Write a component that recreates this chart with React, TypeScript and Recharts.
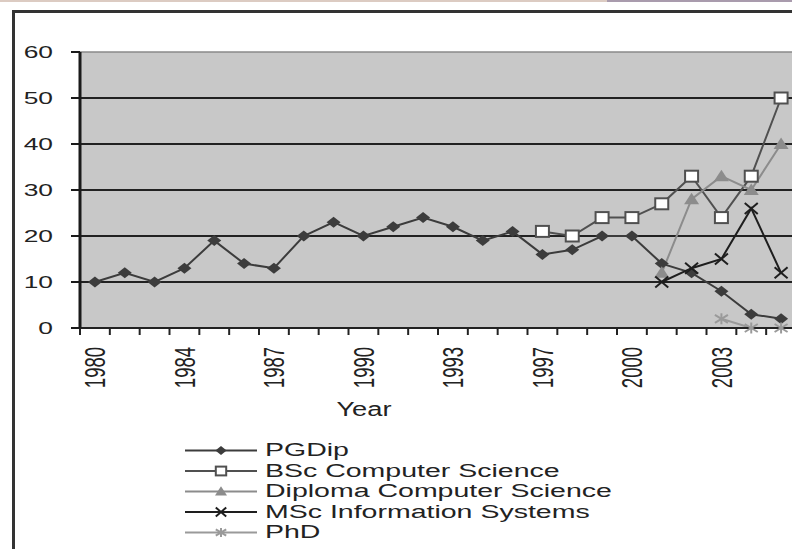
import { CartesianGrid, Legend, Line, LineChart, XAxis, YAxis } from "recharts"

const years = [
  "1980", "1981", "1982", "1984", "1985", "1986", "1987", "1988", "1989", "1990", "1991", "1992",
  "1993", "1995", "1996", "1997", "1998", "1999", "2000", "2001", "2002", "2003", "2004", "2005",
]
const pgdip = [10, 12, 10, 13, 19, 14, 13, 20, 23, 20, 22, 24, 22, 19, 21, 16, 17, 20, 20, 14, 12, 8, 3, 2]
const bsc = [null, null, null, null, null, null, null, null, null, null, null, null, null, null, null, 21, 20, 24, 24, 27, 33, 24, 33, 50]
const diploma = [null, null, null, null, null, null, null, null, null, null, null, null, null, null, null, null, null, null, null, 12, 28, 33, 30, 40]
const msc = [null, null, null, null, null, null, null, null, null, null, null, null, null, null, null, null, null, null, null, 10, 13, 15, 26, 12]
const phd = [null, null, null, null, null, null, null, null, null, null, null, null, null, null, null, null, null, null, null, null, null, 2, 0, 0]
const yTicks = [0, 10, 20, 30, 40, 50, 60]

const data = years.map((year, i) => ({
  year,
  pgdip: pgdip[i],
  bsc: bsc[i],
  diploma: diploma[i],
  msc: msc[i],
  phd: phd[i],
}))

const W = 830
const H = 549
const PLOT_LEFT = 80
const PLOT_RIGHT = 796
const PLOT_TOP = 52
const PLOT_BOTTOM = 328
const BAND = (PLOT_RIGHT - PLOT_LEFT) / years.length
const FONT = "'Liberation Sans', Arial, sans-serif"
const STRETCH = 1.55

type Shape = "diamond" | "square" | "triangle" | "x" | "star"

const series: { key: string; name: string; color: string; shape: Shape }[] = [
  { key: "pgdip", name: "PGDip", color: "#3c3c3c", shape: "diamond" },
  { key: "bsc", name: "BSc Computer Science", color: "#505050", shape: "square" },
  { key: "diploma", name: "Diploma Computer Science", color: "#8c8c8c", shape: "triangle" },
  { key: "msc", name: "MSc Information Systems", color: "#1e1e1e", shape: "x" },
  { key: "phd", name: "PhD", color: "#9a9a9a", shape: "star" },
]

// s = marker scale (legend uses smaller markers)
function marker(shape: Shape, cx: number, cy: number, color: string, k?: string | number, s = 1) {
  switch (shape) {
    case "diamond":
      return <polygon key={k} points={`${cx},${cy - 5.5 * s} ${cx + 7 * s},${cy} ${cx},${cy + 5.5 * s} ${cx - 7 * s},${cy}`} fill={color} />
    case "square":
      return <rect key={k} x={cx - 6.5 * s} y={cy - 5.5 * s} width={13 * s} height={11 * s} fill="#fff" stroke={color} strokeWidth={2} />
    case "triangle":
      return <polygon key={k} points={`${cx},${cy - 6.5 * s} ${cx + 7.5 * s},${cy + 5 * s} ${cx - 7.5 * s},${cy + 5 * s}`} fill={color} />
    case "x":
      return (
        <g key={k} stroke={color} strokeWidth={2}>
          <line x1={cx - 6.5 * s} y1={cy - 5.5 * s} x2={cx + 6.5 * s} y2={cy + 5.5 * s} />
          <line x1={cx - 6.5 * s} y1={cy + 5.5 * s} x2={cx + 6.5 * s} y2={cy - 5.5 * s} />
        </g>
      )
    default:
      return (
        <g key={k} stroke={color} strokeWidth={2}>
          <line x1={cx - 6.5 * s} y1={cy - 4 * s} x2={cx + 6.5 * s} y2={cy + 4 * s} />
          <line x1={cx - 6.5 * s} y1={cy + 4 * s} x2={cx + 6.5 * s} y2={cy - 4 * s} />
          <line x1={cx} y1={cy - 5.5 * s} x2={cx} y2={cy + 5.5 * s} />
        </g>
      )
  }
}

const dotFor = (shape: Shape, color: string) => (p: any) => {
  if (p.cx == null || p.cy == null || p.value == null) return <g key={p.key} />
  return marker(shape, p.cx, p.cy, color, p.key)
}

const YTick = ({ x, y, payload }: any) => (
  <g transform={`translate(${x},${y}) scale(${STRETCH},1)`}>
    <text textAnchor="end" dominantBaseline="central" fontSize={17} fill="#222" fontFamily={FONT}>
      {payload.value}
    </text>
  </g>
)

const XTick = ({ x, index, payload }: any) => (
  <g>
    <line x1={x - BAND / 2} y1={PLOT_BOTTOM} x2={x - BAND / 2} y2={PLOT_BOTTOM + 7} stroke="#222" strokeWidth={2} />
    {index % 3 === 0 && (
      <g transform={`translate(${x},${PLOT_BOTTOM + 19}) rotate(-90) scale(1,1.6)`}>
        <text textAnchor="end" dominantBaseline="central" fontSize={18.5} fill="#222" fontFamily={FONT}>
          {payload.value}
        </text>
      </g>
    )}
  </g>
)

const YearLabel = () => (
  <g transform={`translate(364,416) scale(1.4,1)`}>
    <text textAnchor="middle" fontSize={19.5} fill="#222" fontFamily={FONT}>
      Year
    </text>
  </g>
)

const gridLine = (p: any) => (
  <line
    key={p.key}
    x1={p.x1}
    y1={p.y1}
    x2={p.x2}
    y2={p.y2}
    stroke={p.y1 <= PLOT_TOP + 1 ? "#8a8a8a" : "#222"}
    strokeWidth={p.y1 <= PLOT_TOP + 1 ? 1.5 : 2}
  />
)

const LegendBox = () => (
  <svg width={470} height={110} style={{ display: "block" }}>
    {series.map((s, i) => {
      const base = 20 + i * 20.5
      const ly = base - 5.5
      return (
        <g key={s.key}>
          <line x1={10} y1={ly} x2={82} y2={ly} stroke={s.color} strokeWidth={2} />
          {marker(s.shape, 46, ly, s.color, undefined, 0.8)}
          <g transform={`translate(90,${base}) scale(1.5,1)`}>
            <text fontSize={19} fill="#222" fontFamily={FONT}>
              {s.name}
            </text>
          </g>
        </g>
      )
    })}
  </svg>
)

export default function App() {
  return (
    <div style={{ position: "fixed", left: 0, top: 0, width: 792, height: 549, overflow: "hidden", background: "#fff" }}>
      <div style={{ position: "absolute", left: 0, top: 0, width: 607, height: 2, background: "#dccbc2" }} />
      <div style={{ position: "absolute", left: 607, top: 0, width: 185, height: 2, background: "#a99bad" }} />
      <div
        style={{
          position: "absolute",
          left: 12,
          top: 10,
          width: 820,
          height: 560,
          borderTop: "3px solid #333",
          borderLeft: "3px solid #333",
        }}
      />
      <div style={{ position: "absolute", left: 0, top: 0 }}>
        <LineChart
          width={W}
          height={H}
          data={data}
          margin={{ top: PLOT_TOP, right: W - PLOT_RIGHT, left: 20, bottom: H - PLOT_BOTTOM - 100 }}
        >
          <CartesianGrid fill="#c8c8c8" vertical={false} horizontal={gridLine} />
          <XAxis
            dataKey="year"
            scale="band"
            interval={0}
            height={100}
            tickLine={false}
            axisLine={{ stroke: "#222", strokeWidth: 2 }}
            tick={<XTick />}
            label={<YearLabel />}
          />
          <YAxis
            domain={[0, 60]}
            ticks={yTicks}
            width={60}
            tickSize={9}
            tickMargin={18}
            axisLine={{ stroke: "#1a1a1a", strokeWidth: 3 }}
            tickLine={{ stroke: "#1a1a1a", strokeWidth: 2 }}
            tick={<YTick />}
          />
          <Legend
            layout="vertical"
            align="center"
            verticalAlign="middle"
            wrapperStyle={{ left: 175, top: 436, width: 470 }}
            content={<LegendBox />}
          />
          {series.map((s) => (
            <Line
              key={s.key}
              dataKey={s.key}
              name={s.name}
              stroke={s.color}
              strokeWidth={2}
              dot={dotFor(s.shape, s.color)}
              activeDot={false}
              isAnimationActive={false}
            />
          ))}
        </LineChart>
      </div>
    </div>
  )
}
